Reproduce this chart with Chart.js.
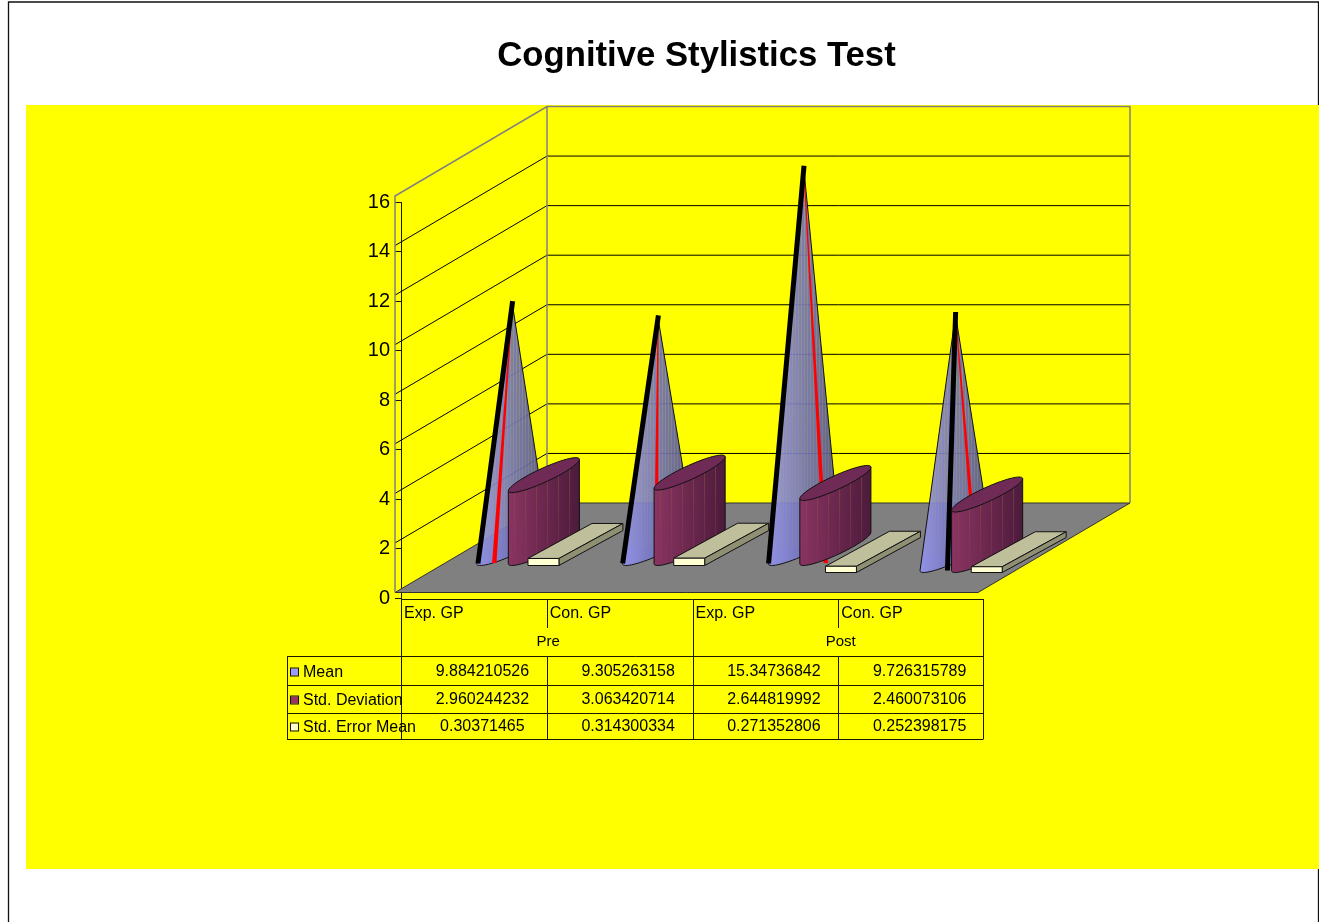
<!DOCTYPE html>
<html>
<head>
<meta charset="utf-8">
<title>Cognitive Stylistics Test</title>
<script src="https://cdn.jsdelivr.net/npm/chart.js@4"></script>
<style>
  html, body { margin: 0; padding: 0; background: #fff; overflow: hidden; }
  canvas { display: block; }
</style>
</head>
<body>
<canvas id="chart" width="1319" height="922"></canvas>
<script>
// Data
const chartTitle = "Cognitive Stylistics Test";
const groups = ["Pre", "Post"];
const categories = ["Exp. GP", "Con. GP", "Exp. GP", "Con. GP"];
const meanValues = [9.884210526, 9.305263158, 15.34736842, 9.726315789];
const stdDeviationValues = [2.960244232, 3.063420714, 2.644819992, 2.460073106];
const stdErrorValues = [0.30371465, 0.314300334, 0.271352806, 0.252398175];
const yTicks = [0, 2, 4, 6, 8, 10, 12, 14, 16];

// 3D look: how far a bar is pushed back, and the floor/wall box
const FONT = '"Liberation Sans", Arial, sans-serif';
const markDx = 70, markDy = -50;     // bar centre -> centre of its base ellipse
const halfDepthX = 32, halfDepthY = 17.5;
const wallDx = 152, wallDy = -89.5;  // front corner -> back corner
const wallShift = -6;                // walls sit a little off the axis

// Excel left some shapes slightly out of line (series -> category)
const nudged = [[0, 0, 0, 1], [0, 0, 0, 1], [0, 0, 1, 1]];
const nudgeX = 6, nudgeY = 7;

// Spokes on the cones: where they land, relative to the apex
const blackSpoke = [-34, -35, -35, -8];
const redSpoke = [-18, -2, 22, 21];

// Point on the ellipse around (cx, cy)
function ellipsePoint(cx, cy, halfW, t) {
    return [cx + halfW * Math.cos(t) + halfDepthX * Math.sin(t), cy - halfDepthY * Math.sin(t)];
}

// Lower half of the ellipse from its left extreme to its right extreme
function lowerArc(ctx, cx, cy, halfW) {
    let t0 = Math.atan2(halfDepthX, halfW);
    for (let i = 0; i <= 30; i++) {
        let p = ellipsePoint(cx, cy, halfW, t0 + Math.PI + Math.PI * i / 30);
        ctx.lineTo(p[0], p[1]);
    }
}

function stripes(ctx, x0, x1, yTop, yBottom, step, colorTop, colorBottom) {
    let g = ctx.createLinearGradient(0, yTop, 0, yBottom);
    g.addColorStop(0, colorTop);
    g.addColorStop(1, colorBottom);
    ctx.strokeStyle = g;
    ctx.lineWidth = 1;
    for (let x = x0; x <= x1; x += step) {
        ctx.beginPath();
        ctx.moveTo(Math.round(x) + 0.5, yTop);
        ctx.lineTo(Math.round(x) + 0.5, yBottom);
        ctx.stroke();
    }
}

function conePath(ctx, cx, cy, apexY, halfW) {
    let t0 = Math.atan2(halfDepthX, halfW);
    let left = ellipsePoint(cx, cy, halfW, t0 + Math.PI);
    ctx.beginPath();
    ctx.moveTo(cx, apexY);
    ctx.lineTo(left[0], left[1]);
    lowerArc(ctx, cx, cy, halfW);
    ctx.closePath();
}

function drawCone(ctx, bar, index, nudge) {
    let halfW = bar.width / 2;
    let cx = bar.x + markDx + nudge[0];
    let cy = bar.base + markDy + nudge[1];
    let apexY = bar.y + markDy + nudge[1];
    let reach = Math.sqrt(halfW * halfW + halfDepthX * halfDepthX);

    ctx.save();
    conePath(ctx, cx, cy, apexY, halfW);
    let g = ctx.createLinearGradient(cx - reach, 0, cx + reach, 0);
    g.addColorStop(0, "#9494ee");
    g.addColorStop(1, "#50508a");
    ctx.fillStyle = g;
    ctx.globalAlpha = 0.92;
    ctx.fill();
    ctx.globalAlpha = 1;
    ctx.save();
    ctx.clip();
    stripes(ctx, cx - reach, cx + reach, apexY, cy, 3, "rgba(170,170,90,0.6)", "rgba(170,170,90,0.1)");
    ctx.restore();
    conePath(ctx, cx, cy, apexY, halfW);
    ctx.strokeStyle = "#111";
    ctx.lineWidth = 1;
    ctx.stroke();

    // Red spoke gets thicker towards the base
    let footY = cy + 15;
    let redX = cx + redSpoke[index];
    ctx.fillStyle = "#ff0000";
    ctx.beginPath();
    ctx.moveTo(cx - 0.4, apexY);
    ctx.lineTo(cx + 0.4, apexY);
    ctx.lineTo(redX + 2.2, footY);
    ctx.lineTo(redX - 2.2, footY);
    ctx.closePath();
    ctx.fill();

    // Black spoke
    ctx.strokeStyle = "#000";
    ctx.lineWidth = 5;
    ctx.lineCap = "square";
    ctx.beginPath();
    ctx.moveTo(cx, apexY);
    ctx.lineTo(cx + blackSpoke[index], footY - 2);
    ctx.stroke();
    ctx.restore();
}

function cylinderBody(ctx, cx, cy, topY, halfW) {
    let t0 = Math.atan2(halfDepthX, halfW);
    let leftTop = ellipsePoint(cx, topY, halfW, t0 + Math.PI);
    let rightTop = ellipsePoint(cx, topY, halfW, t0);
    ctx.beginPath();
    ctx.moveTo(leftTop[0], leftTop[1]);
    lowerArc(ctx, cx, cy, halfW);
    ctx.lineTo(rightTop[0], rightTop[1]);
    ctx.closePath();
}

function drawCylinder(ctx, bar, nudge) {
    let halfW = bar.width / 2;
    let cx = bar.x + markDx + nudge[0];
    let cy = bar.base + markDy + nudge[1];
    let topY = bar.y + markDy + nudge[1];
    let reach = Math.sqrt(halfW * halfW + halfDepthX * halfDepthX);

    ctx.save();
    cylinderBody(ctx, cx, cy, topY, halfW);
    let g = ctx.createLinearGradient(cx - reach, 0, cx + reach, 0);
    g.addColorStop(0, "#8a3462");
    g.addColorStop(1, "#4c1b3b");
    ctx.fillStyle = g;
    ctx.fill();
    ctx.save();
    ctx.clip();
    stripes(ctx, cx - reach + 6, cx + reach, topY - 20, cy + 20, 11, "rgba(150,110,50,0.45)", "rgba(150,60,90,0.2)");
    ctx.restore();
    cylinderBody(ctx, cx, cy, topY, halfW);
    ctx.strokeStyle = "#111";
    ctx.lineWidth = 1;
    ctx.stroke();

    // Top cap
    ctx.beginPath();
    for (let i = 0; i <= 60; i++) {
        let p = ellipsePoint(cx, topY, halfW, Math.PI * 2 * i / 60);
        ctx.lineTo(p[0], p[1]);
    }
    ctx.closePath();
    ctx.fillStyle = "#702a56";
    ctx.fill();
    ctx.stroke();
    ctx.restore();
}

function drawBox(ctx, bar, nudge) {
    let halfW = bar.width / 2;
    let cx = bar.x + markDx + nudge[0];
    let cy = bar.base + markDy + nudge[1];
    let x0 = cx - halfW - halfDepthX;
    let x1 = cx + halfW - halfDepthX;
    let yBottom = cy + halfDepthY;
    let yTop = yBottom - (bar.base - bar.y);
    let dx = halfDepthX * 2, dy = -halfDepthY * 2;

    ctx.save();
    ctx.strokeStyle = "#111";
    ctx.lineWidth = 1;
    ctx.lineJoin = "round";
    ctx.beginPath();
    ctx.moveTo(x0, yTop);
    ctx.lineTo(x1, yTop);
    ctx.lineTo(x1 + dx, yTop + dy);
    ctx.lineTo(x0 + dx, yTop + dy);
    ctx.closePath();
    ctx.fillStyle = "#bfbf9b";
    ctx.fill();
    ctx.stroke();
    ctx.beginPath();
    ctx.moveTo(x1, yTop);
    ctx.lineTo(x1 + dx, yTop + dy);
    ctx.lineTo(x1 + dx, yBottom + dy);
    ctx.lineTo(x1, yBottom);
    ctx.closePath();
    ctx.fillStyle = "#8f8f74";
    ctx.fill();
    ctx.stroke();
    ctx.fillStyle = "#ffffd2";
    ctx.fillRect(x0, yTop, x1 - x0, yBottom - yTop);
    ctx.strokeRect(x0, yTop, x1 - x0, yBottom - yTop);
    ctx.restore();
}

// Page frame, yellow panel and title
const backgroundPlugin = {
    id: "background",
    beforeDraw(chart) {
        let ctx = chart.ctx;
        ctx.save();
        ctx.fillStyle = "#ffffff";
        ctx.fillRect(0, 0, chart.width, chart.height);
        ctx.strokeStyle = "#111";
        ctx.lineWidth = 1.3;
        ctx.beginPath();
        ctx.moveTo(8.5, 922);
        ctx.lineTo(8.5, 2);
        ctx.lineTo(1318.5, 2);
        ctx.lineTo(1318.5, 922);
        ctx.stroke();
        ctx.fillStyle = "#ffff00";
        ctx.fillRect(26, 105, chart.width, 764);

        ctx.fillStyle = "#000";
        ctx.font = "bold 34.7px " + FONT;
        ctx.textAlign = "center";
        ctx.textBaseline = "middle";
        ctx.fillText(chartTitle, 696.5, 56);
        ctx.restore();
    }
};

// Walls and floor, hung on the y scale and the category edges
const wallsPlugin = {
    id: "walls",
    beforeDatasetsDraw(chart) {
        let ctx = chart.ctx;
        let { x, y } = chart.scales;
        let left = x.left + wallShift;
        let right = x.right + wallShift;
        let floorY = y.getPixelForValue(0) + wallShift;
        let topY = y.getPixelForValue(16) + wallShift;

        ctx.save();
        ctx.lineWidth = 1;
        ctx.fillStyle = "#808080";
        ctx.strokeStyle = "#333";
        ctx.beginPath();
        ctx.moveTo(left, floorY);
        ctx.lineTo(right, floorY);
        ctx.lineTo(right + wallDx, floorY + wallDy);
        ctx.lineTo(left + wallDx, floorY + wallDy);
        ctx.closePath();
        ctx.fill();
        ctx.stroke();

        ctx.strokeStyle = "#000";
        yTicks.slice(1, -1).forEach((tick) => {
            let py = y.getPixelForValue(tick) + wallShift;
            ctx.beginPath();
            ctx.moveTo(left, py);
            ctx.lineTo(left + wallDx, py + wallDy);
            ctx.lineTo(right + wallDx, py + wallDy);
            ctx.stroke();
        });

        ctx.strokeStyle = "#808080";
        ctx.lineWidth = 1.5;
        ctx.beginPath();
        ctx.moveTo(left, floorY);
        ctx.lineTo(left, topY);
        ctx.lineTo(left + wallDx, topY + wallDy);
        ctx.lineTo(right + wallDx, topY + wallDy);
        ctx.lineTo(right + wallDx, floorY + wallDy);
        ctx.moveTo(left + wallDx, topY + wallDy);
        ctx.lineTo(left + wallDx, floorY + wallDy);
        ctx.stroke();
        ctx.restore();
    },
    afterDatasetsDraw(chart) {
        let ctx = chart.ctx;
        let cones = chart.getDatasetMeta(0).data;
        let cylinders = chart.getDatasetMeta(1).data;
        let boxes = chart.getDatasetMeta(2).data;
        categories.forEach((name, i) => {
            let n = (s) => nudged[s][i] ? [nudgeX, nudgeY] : [0, 0];
            drawCone(ctx, cones[i], i, n(0));
            drawCylinder(ctx, cylinders[i], n(1));
            drawBox(ctx, boxes[i], n(2));
        });
    }
};

// Data table under the chart
const tablePlugin = {
    id: "dataTable",
    afterDraw(chart) {
        let ctx = chart.ctx;
        let { x } = chart.scales;
        let colW = (x.right - x.left) / categories.length;
        let rowLines = [599, 656, 685, 713, 739];
        let rowText = [672, 700, 727];
        let legendLeft = 287;
        let tableRight = x.right - 0.5;
        let series = chart.data.datasets;
        let line = (x0, y0, x1, y1) => {
            ctx.beginPath();
            ctx.moveTo(x0, y0);
            ctx.lineTo(x1, y1);
            ctx.stroke();
        };

        ctx.save();
        ctx.strokeStyle = "#1a1a00";
        ctx.lineWidth = 1;
        line(x.left, rowLines[0] + 0.5, tableRight, rowLines[0] + 0.5);
        rowLines.slice(1).forEach((r) => line(legendLeft, r + 0.5, tableRight, r + 0.5));
        line(legendLeft + 0.5, rowLines[1], legendLeft + 0.5, rowLines[4]);
        for (let c = 0; c <= categories.length; c++) {
            let cx = Math.min(Math.round(x.left + c * colW) + 0.5, tableRight);
            let startY = (c === 1 || c === 3) ? rowLines[1] : rowLines[0];
            line(cx, startY, cx, rowLines[4]);
            if (c === 1 || c === 3) line(cx, rowLines[0], cx, 628);
        }

        ctx.fillStyle = "#000";
        ctx.font = "16px " + FONT;
        ctx.textBaseline = "middle";
        ctx.textAlign = "left";
        categories.forEach((name, c) => ctx.fillText(name, x.left + c * colW + 3, 613.5));
        ctx.textAlign = "center";
        ctx.font = "15px " + FONT;
        groups.forEach((name, g) => ctx.fillText(name, x.left + (g * 2 + 1) * colW + 1.5 + g, 642));
        ctx.font = "16px " + FONT;

        series.forEach((s, r) => {
            ctx.fillStyle = s.swatch;
            ctx.fillRect(291, rowText[r] - 3.5, 7, 7);
            ctx.strokeStyle = "#111";
            ctx.strokeRect(290.5, rowText[r] - 4, 8, 8);
            ctx.fillStyle = "#000";
            ctx.textAlign = "left";
            ctx.fillText(s.label, 303, rowText[r] + 1);
            ctx.textAlign = "center";
            s.data.forEach((v, c) => {
                ctx.fillText(String(v), x.left + (c + 0.5) * colW + 8.5, rowText[r]);
            });
        });
        ctx.restore();
    }
};

// Create chart
new Chart(document.getElementById("chart"), {
    type: "bar",
    plugins: [backgroundPlugin, wallsPlugin, tablePlugin],
    data: {
        labels: categories,
        datasets: [
            { label: "Mean", data: meanValues, swatch: "#9999ff" },
            { label: "Std. Deviation", data: stdDeviationValues, swatch: "#993366" },
            { label: "Std. Error Mean", data: stdErrorValues, swatch: "#ffffcc" }
        ].map((d) => ({ ...d, backgroundColor: "transparent", categoryPercentage: 0.65, barPercentage: 0.98 }))
    },
    options: {
        responsive: false,
        animation: false,
        layout: { padding: { left: 341, right: 335, top: 202, bottom: 323.5 } },
        plugins: {
            legend: { display: false },
            tooltip: { enabled: false },
            title: { display: false }
        },
        scales: {
            x: { display: false },
            y: {
                min: 0,
                max: 16,
                afterFit(scale) { scale.width = 60; },
                afterBuildTicks(scale) { scale.ticks = yTicks.map((value) => ({ value })); },
                border: { color: "#1a1a00" },
                grid: { drawOnChartArea: false, color: "#1a1a00", tickLength: 6 },
                ticks: { color: "#000", padding: 5, font: { family: FONT, size: 20 } }
            }
        }
    }
});
</script>
</body>
</html>
